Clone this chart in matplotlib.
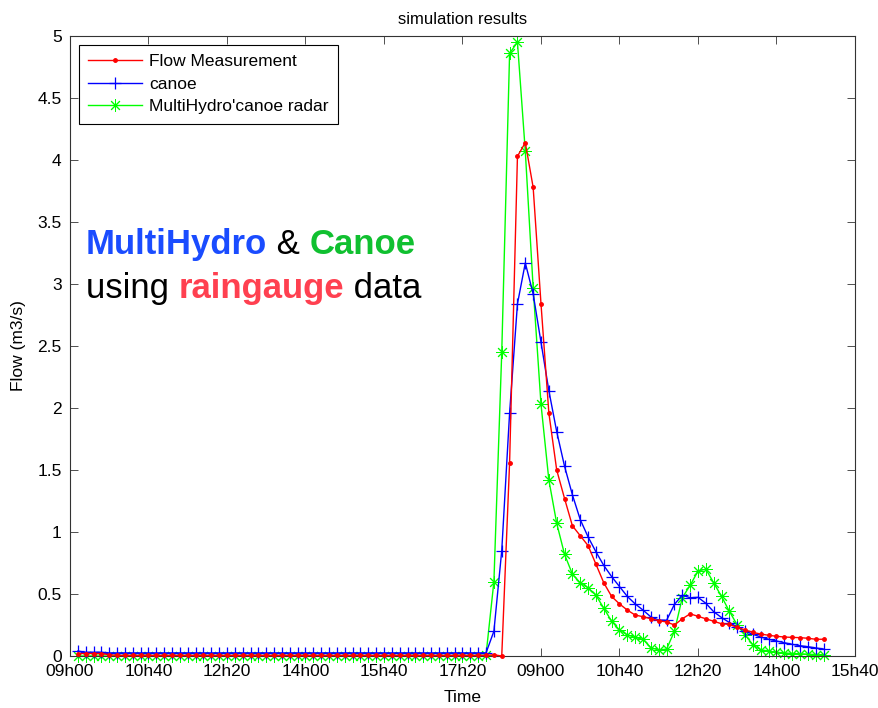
import matplotlib
matplotlib.use("Agg")
import matplotlib.pyplot as plt
import matplotlib.transforms as mtransforms
import numpy as np

plt.rcParams['font.family'] = ['Liberation Sans', 'DejaVu Sans']

# sample index (10 min steps), 1..96
steps = np.arange(1, 97)

flow_measurement = [
    0.02, 0.02, 0.02, 0.02, 0.01, 0.005, 0.005, 0.005, 0.005, 0.005,
    0.005, 0.005, 0.005, 0.005, 0.005, 0.005, 0.005, 0.005, 0.005, 0.005,
    0.005, 0.005, 0.005, 0.005, 0.005, 0.005, 0.005, 0.005, 0.005, 0.005,
    0.005, 0.005, 0.005, 0.005, 0.005, 0.005, 0.005, 0.005, 0.005, 0.005,
    0.005, 0.005, 0.005, 0.005, 0.005, 0.005, 0.005, 0.005, 0.005, 0.005,
    0.005, 0.005, 0.005, 0.01, 0.0, 1.56, 4.03, 4.14, 3.78, 2.84,
    1.96, 1.50, 1.27, 1.05, 0.97, 0.89, 0.74, 0.59, 0.48, 0.42,
    0.37, 0.33, 0.317, 0.30, 0.285, 0.274, 0.25, 0.30, 0.34, 0.32,
    0.30, 0.28, 0.26, 0.255, 0.23, 0.21, 0.19, 0.177, 0.167, 0.159,
    0.153, 0.15, 0.148, 0.143, 0.135, 0.135,
]

canoe = [
    0.04, 0.03, 0.03, 0.03, 0.025, 0.025, 0.025, 0.025, 0.025, 0.025,
    0.025, 0.025, 0.025, 0.025, 0.025, 0.025, 0.025, 0.025, 0.025, 0.025,
    0.025, 0.025, 0.025, 0.025, 0.025, 0.025, 0.025, 0.025, 0.025, 0.025,
    0.025, 0.025, 0.025, 0.025, 0.025, 0.025, 0.025, 0.025, 0.025, 0.025,
    0.025, 0.025, 0.025, 0.025, 0.025, 0.025, 0.025, 0.025, 0.025, 0.025,
    0.025, 0.025, 0.025, 0.20, 0.85, 1.96, 2.84, 3.17, 2.92, 2.53,
    2.14, 1.81, 1.53, 1.30, 1.10, 0.96, 0.84, 0.73, 0.64, 0.56,
    0.48, 0.42, 0.37, 0.315, 0.29, 0.288, 0.417, 0.49, 0.47, 0.473,
    0.425, 0.357, 0.31, 0.27, 0.234, 0.20, 0.175, 0.153, 0.135, 0.121,
    0.107, 0.094, 0.083, 0.075, 0.065, 0.056,
]

radar = [
    0.0, 0.0, 0.0, 0.0, 0.0, 0.0, 0.0, 0.0, 0.0, 0.0,
    0.0, 0.0, 0.0, 0.0, 0.0, 0.0, 0.0, 0.0, 0.0, 0.0,
    0.0, 0.0, 0.0, 0.0, 0.0, 0.0, 0.0, 0.0, 0.0, 0.0,
    0.0, 0.0, 0.0, 0.0, 0.0, 0.0, 0.0, 0.0, 0.0, 0.0,
    0.0, 0.0, 0.0, 0.0, 0.0, 0.0, 0.0, 0.0, 0.0, 0.0,
    0.0, 0.0, 0.01, 0.60, 2.45, 4.86, 4.95, 4.07, 2.97, 2.03,
    1.42, 1.07, 0.82, 0.66, 0.59, 0.55, 0.49, 0.385, 0.28, 0.21,
    0.17, 0.15, 0.134, 0.067, 0.048, 0.056, 0.20, 0.47, 0.57, 0.685,
    0.70, 0.59, 0.48, 0.36, 0.25, 0.17, 0.09, 0.05, 0.04, 0.03,
    0.025, 0.02, 0.018, 0.015, 0.012, 0.01,
]

tick_pos = np.arange(0, 101, 10)
tick_labels = ['09h00', '10h40', '12h20', '14h00', '15h40', '17h20',
               '09h00', '10h40', '12h20', '14h00', '15h40']

fig = plt.figure(figsize=(8.79, 7.08), dpi=100)
ax = fig.add_axes([70 / 879, 1 - 656 / 708, 785 / 879, 620 / 708])

ax.plot(steps, flow_measurement, color='#ff0000', lw=1, marker='.', ms=5,
        label='Flow Measurement', clip_on=False, zorder=3)
ax.plot(steps, canoe, color='#0000ff', lw=1, marker='+', ms=9, mew=0.9,
        label='canoe', clip_on=False, zorder=2)
ax.plot(steps, radar, color='#00ff00', lw=1, marker=(8, 2, 0), ms=9, mew=0.7,
        label="MultiHydro'canoe radar", clip_on=False, zorder=1)

ax.set_xlim(0, 100)
ax.set_ylim(0, 5)
ax.set_xticks(tick_pos)
ax.set_xticklabels(tick_labels)
ax.set_yticks(np.arange(0, 5.01, 0.5))
ax.set_yticklabels(['0', '0.5', '1', '1.5', '2', '2.5', '3', '3.5', '4', '4.5', '5'])
ax.tick_params(direction='in', length=6, width=0.6, top=True, right=True,
               labelsize=12.5, pad=6, color='#333333')
for s in ax.spines.values():
    s.set_linewidth(0.8)
    s.set_color('#333333')

ax.set_title('simulation results', fontsize=12, pad=9)
ax.set_xlabel('Time', fontsize=12.5, labelpad=8)
ax.set_ylabel('Flow (m3/s)', fontsize=12.5, labelpad=8)

leg = ax.legend(loc='upper left', fontsize=12.5, numpoints=1, handlelength=3.1,
                handletextpad=0.4, labelspacing=0.42, borderaxespad=0.5,
                fancybox=False, framealpha=1, edgecolor='black', borderpad=0.55)
leg.get_frame().set_linewidth(0.8)

# coloured annotation, drawn piece by piece
def rainbow(x, y, pieces):
    renderer = fig.canvas.get_renderer()
    t = ax.transAxes
    for text, color, weight in pieces:
        txt = ax.text(x, y, text, color=color, fontweight=weight, fontsize=25,
                      transform=t, va='baseline', ha='left')
        txt.draw(renderer)
        ex = txt.get_window_extent(renderer)
        t = mtransforms.offset_copy(txt.get_transform(), x=ex.width, units='dots', fig=fig)

rainbow(16 / 785, (656 - 254) / 620, [('MultiHydro', '#1a4cff', 'bold'),
                                      (' & ', 'black', 'normal'),
                                      ('Canoe', '#10c030', 'bold')])
rainbow(16 / 785, (656 - 298) / 620, [('using ', 'black', 'normal'),
                                      ('raingauge', '#ff4050', 'bold'),
                                      (' data', 'black', 'normal')])

fig.savefig('out.png', dpi=100)
